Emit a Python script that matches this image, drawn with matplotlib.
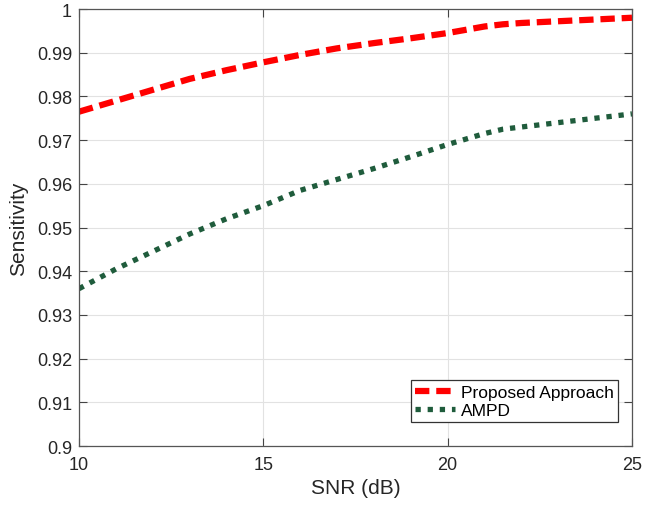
import matplotlib
matplotlib.use("Agg")
from matplotlib import pyplot as plt

plt.rcParams['font.family'] = ['Liberation Sans', 'DejaVu Sans']

snr = [10, 11, 12, 13, 14, 15, 16, 17, 18, 19, 20, 21, 21.5, 22, 23, 24, 25]
proposed = [0.9765, 0.979, 0.9815, 0.984, 0.986, 0.9878, 0.9895, 0.991, 0.9922,
            0.9933, 0.9945, 0.996, 0.9965, 0.9968, 0.9972, 0.9976, 0.998]
ampd = [0.936, 0.9405, 0.9445, 0.9485, 0.952, 0.955, 0.9585, 0.961, 0.9635,
        0.9662, 0.969, 0.9715, 0.9725, 0.973, 0.974, 0.975, 0.976]

fig = plt.figure(figsize=(6.46, 5.06), dpi=100)
ax = fig.add_axes([79 / 646, 59 / 506, 553 / 646, 437 / 506])

ax.plot(snr, proposed, color='#ff0000', linewidth=4.5, linestyle=(0, (2.3, 1.1)),
        label="Proposed Approach")
ax.plot(snr, ampd, color='#1f5c3c', linewidth=3.8, linestyle=(0, (1, 1.3)),
        label="AMPD")

ax.set_xlim(10, 25)
ax.set_ylim(0.9, 1.0)
ax.set_xticks([10, 15, 20, 25])
ax.set_yticks([0.9 + 0.01 * i for i in range(11)])
ax.set_yticklabels(["0.9", "0.91", "0.92", "0.93", "0.94", "0.95", "0.96",
                    "0.97", "0.98", "0.99", "1"])
ax.grid(True, color='#e2e2e2', linewidth=0.8)
ax.tick_params(direction='in', top=True, right=True, labelsize=13, length=6,
               color='#444444', labelcolor='#262626')
ax.tick_params(axis='x', pad=7)
ax.tick_params(axis='y', pad=5)
for s in ax.spines.values():
    s.set_color('#555555')
    s.set_linewidth(0.9)

ax.set_xlabel("SNR (dB)", fontsize=15, color='#262626', labelpad=4)
ax.set_ylabel("Sensitivity", fontsize=15, color='#262626', labelpad=6)

leg = ax.legend(loc='lower right', bbox_to_anchor=(0.975, 0.055), fontsize=12.5,
                fancybox=False, framealpha=1, edgecolor='#333333',
                borderaxespad=0, handlelength=2.3, handletextpad=0.35,
                borderpad=0.25, labelspacing=0.15)
leg.get_frame().set_linewidth(0.9)

fig.savefig("out.png", dpi=100)
